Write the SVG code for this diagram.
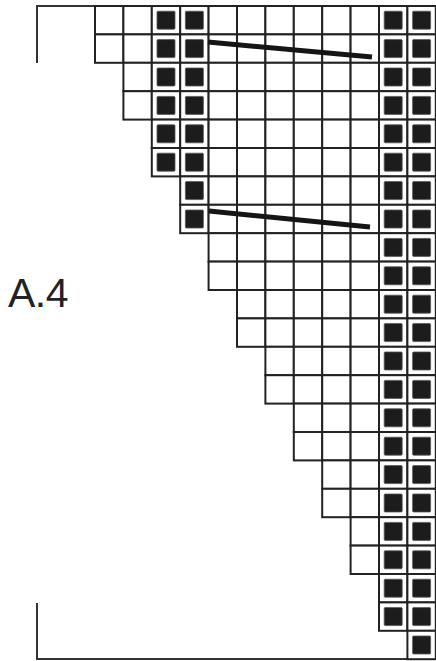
<svg xmlns="http://www.w3.org/2000/svg" xmlns:xlink="http://www.w3.org/1999/xlink" width="436" height="661" viewBox="0 0 436 661">
<style>
.cell{fill:#fff;stroke:#222;stroke-width:2}
.fill{fill:#1c1c1c;stroke:#555;stroke-width:0.8}
.frame{fill:none;stroke:#333;stroke-width:2}
.slash{stroke:#151515;stroke-width:5;stroke-linecap:butt}
.lbl{font-family:"Liberation Sans",Arial,sans-serif;font-size:41px;fill:#222}
</style>
<defs>
<g id="w"><rect class="cell" width="28.4" height="28.4"/></g>
<g id="b"><rect class="cell" width="28.4" height="28.4"/><rect class="fill" x="5.2" y="5.2" width="18" height="18" rx="1"/></g>
</defs>
<rect width="436" height="661" fill="#fff"/>
<g id="frame">
<polyline class="frame" points="37,63 37,6 436,6"/>
<polyline class="frame" points="37,603 37,659 436,659"/>
</g>
<text id="label" class="lbl" x="8" y="307" letter-spacing="-0.5">A.4</text>
<g id="chart">
<g id="r0"><use href="#w" x="95" y="6"/><use href="#w" x="123.4" y="6"/><use href="#b" x="151.8" y="6"/><use href="#b" x="180.2" y="6"/><use href="#w" x="208.6" y="6"/><use href="#w" x="237" y="6"/><use href="#w" x="265.4" y="6"/><use href="#w" x="293.8" y="6"/><use href="#w" x="322.2" y="6"/><use href="#w" x="350.6" y="6"/><use href="#b" x="379" y="6"/><use href="#b" x="407.4" y="6"/></g>
<g id="r1"><use href="#w" x="95" y="34.4"/><use href="#w" x="123.4" y="34.4"/><use href="#b" x="151.8" y="34.4"/><use href="#b" x="180.2" y="34.4"/><use href="#w" x="208.6" y="34.4"/><use href="#w" x="237" y="34.4"/><use href="#w" x="265.4" y="34.4"/><use href="#w" x="293.8" y="34.4"/><use href="#w" x="322.2" y="34.4"/><use href="#w" x="350.6" y="34.4"/><use href="#b" x="379" y="34.4"/><use href="#b" x="407.4" y="34.4"/></g>
<g id="r2"><use href="#w" x="123.4" y="62.8"/><use href="#b" x="151.8" y="62.8"/><use href="#b" x="180.2" y="62.8"/><use href="#w" x="208.6" y="62.8"/><use href="#w" x="237" y="62.8"/><use href="#w" x="265.4" y="62.8"/><use href="#w" x="293.8" y="62.8"/><use href="#w" x="322.2" y="62.8"/><use href="#w" x="350.6" y="62.8"/><use href="#b" x="379" y="62.8"/><use href="#b" x="407.4" y="62.8"/></g>
<g id="r3"><use href="#w" x="123.4" y="91.2"/><use href="#b" x="151.8" y="91.2"/><use href="#b" x="180.2" y="91.2"/><use href="#w" x="208.6" y="91.2"/><use href="#w" x="237" y="91.2"/><use href="#w" x="265.4" y="91.2"/><use href="#w" x="293.8" y="91.2"/><use href="#w" x="322.2" y="91.2"/><use href="#w" x="350.6" y="91.2"/><use href="#b" x="379" y="91.2"/><use href="#b" x="407.4" y="91.2"/></g>
<g id="r4"><use href="#b" x="151.8" y="119.6"/><use href="#b" x="180.2" y="119.6"/><use href="#w" x="208.6" y="119.6"/><use href="#w" x="237" y="119.6"/><use href="#w" x="265.4" y="119.6"/><use href="#w" x="293.8" y="119.6"/><use href="#w" x="322.2" y="119.6"/><use href="#w" x="350.6" y="119.6"/><use href="#b" x="379" y="119.6"/><use href="#b" x="407.4" y="119.6"/></g>
<g id="r5"><use href="#b" x="151.8" y="148"/><use href="#b" x="180.2" y="148"/><use href="#w" x="208.6" y="148"/><use href="#w" x="237" y="148"/><use href="#w" x="265.4" y="148"/><use href="#w" x="293.8" y="148"/><use href="#w" x="322.2" y="148"/><use href="#w" x="350.6" y="148"/><use href="#b" x="379" y="148"/><use href="#b" x="407.4" y="148"/></g>
<g id="r6"><use href="#b" x="180.2" y="176.4"/><use href="#w" x="208.6" y="176.4"/><use href="#w" x="237" y="176.4"/><use href="#w" x="265.4" y="176.4"/><use href="#w" x="293.8" y="176.4"/><use href="#w" x="322.2" y="176.4"/><use href="#w" x="350.6" y="176.4"/><use href="#b" x="379" y="176.4"/><use href="#b" x="407.4" y="176.4"/></g>
<g id="r7"><use href="#b" x="180.2" y="204.8"/><use href="#w" x="208.6" y="204.8"/><use href="#w" x="237" y="204.8"/><use href="#w" x="265.4" y="204.8"/><use href="#w" x="293.8" y="204.8"/><use href="#w" x="322.2" y="204.8"/><use href="#w" x="350.6" y="204.8"/><use href="#b" x="379" y="204.8"/><use href="#b" x="407.4" y="204.8"/></g>
<g id="r8"><use href="#w" x="208.6" y="233.2"/><use href="#w" x="237" y="233.2"/><use href="#w" x="265.4" y="233.2"/><use href="#w" x="293.8" y="233.2"/><use href="#w" x="322.2" y="233.2"/><use href="#w" x="350.6" y="233.2"/><use href="#b" x="379" y="233.2"/><use href="#b" x="407.4" y="233.2"/></g>
<g id="r9"><use href="#w" x="208.6" y="261.6"/><use href="#w" x="237" y="261.6"/><use href="#w" x="265.4" y="261.6"/><use href="#w" x="293.8" y="261.6"/><use href="#w" x="322.2" y="261.6"/><use href="#w" x="350.6" y="261.6"/><use href="#b" x="379" y="261.6"/><use href="#b" x="407.4" y="261.6"/></g>
<g id="r10"><use href="#w" x="237" y="290"/><use href="#w" x="265.4" y="290"/><use href="#w" x="293.8" y="290"/><use href="#w" x="322.2" y="290"/><use href="#w" x="350.6" y="290"/><use href="#b" x="379" y="290"/><use href="#b" x="407.4" y="290"/></g>
<g id="r11"><use href="#w" x="237" y="318.4"/><use href="#w" x="265.4" y="318.4"/><use href="#w" x="293.8" y="318.4"/><use href="#w" x="322.2" y="318.4"/><use href="#w" x="350.6" y="318.4"/><use href="#b" x="379" y="318.4"/><use href="#b" x="407.4" y="318.4"/></g>
<g id="r12"><use href="#w" x="265.4" y="346.8"/><use href="#w" x="293.8" y="346.8"/><use href="#w" x="322.2" y="346.8"/><use href="#w" x="350.6" y="346.8"/><use href="#b" x="379" y="346.8"/><use href="#b" x="407.4" y="346.8"/></g>
<g id="r13"><use href="#w" x="265.4" y="375.2"/><use href="#w" x="293.8" y="375.2"/><use href="#w" x="322.2" y="375.2"/><use href="#w" x="350.6" y="375.2"/><use href="#b" x="379" y="375.2"/><use href="#b" x="407.4" y="375.2"/></g>
<g id="r14"><use href="#w" x="293.8" y="403.6"/><use href="#w" x="322.2" y="403.6"/><use href="#w" x="350.6" y="403.6"/><use href="#b" x="379" y="403.6"/><use href="#b" x="407.4" y="403.6"/></g>
<g id="r15"><use href="#w" x="293.8" y="432"/><use href="#w" x="322.2" y="432"/><use href="#w" x="350.6" y="432"/><use href="#b" x="379" y="432"/><use href="#b" x="407.4" y="432"/></g>
<g id="r16"><use href="#w" x="322.2" y="460.4"/><use href="#w" x="350.6" y="460.4"/><use href="#b" x="379" y="460.4"/><use href="#b" x="407.4" y="460.4"/></g>
<g id="r17"><use href="#w" x="322.2" y="488.8"/><use href="#w" x="350.6" y="488.8"/><use href="#b" x="379" y="488.8"/><use href="#b" x="407.4" y="488.8"/></g>
<g id="r18"><use href="#w" x="350.6" y="517.2"/><use href="#b" x="379" y="517.2"/><use href="#b" x="407.4" y="517.2"/></g>
<g id="r19"><use href="#w" x="350.6" y="545.6"/><use href="#b" x="379" y="545.6"/><use href="#b" x="407.4" y="545.6"/></g>
<g id="r20"><use href="#b" x="379" y="574"/><use href="#b" x="407.4" y="574"/></g>
<g id="r21"><use href="#b" x="379" y="602.4"/><use href="#b" x="407.4" y="602.4"/></g>
<g id="r22"><use href="#b" x="407.4" y="630.8"/></g>
</g>
<g id="connectors">
<line class="slash" x1="208" y1="42" x2="372" y2="57"/>
<line class="slash" x1="209" y1="211" x2="370" y2="227"/>
</g>
</svg>
